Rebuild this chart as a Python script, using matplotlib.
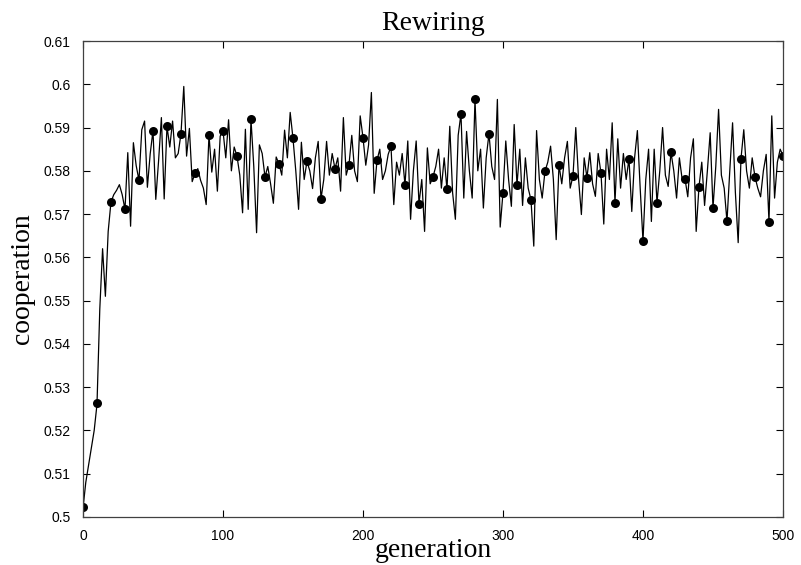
import matplotlib
matplotlib.use("Agg")
import matplotlib.pyplot as plt

# generation (every 2nd) and cooperation level
gen = list(range(0, 501, 2))
coop = [
    0.502, 0.508, 0.512, 0.516, 0.520, 0.526,
    0.548, 0.562, 0.551, 0.566, 0.5728,
    0.5745, 0.5755, 0.5768, 0.5745, 0.5711,
    0.5842, 0.5672, 0.5865, 0.5812, 0.5778,
    0.5895, 0.5915, 0.5762, 0.5839, 0.5893,
    0.5734, 0.5823, 0.5923, 0.5735, 0.5903,
    0.5855, 0.5915, 0.5830, 0.5840, 0.5886,
    0.5995, 0.5834, 0.5898, 0.5775, 0.5794,
    0.5805, 0.5778, 0.5760, 0.5722, 0.5883,
    0.5797, 0.5850, 0.5753, 0.5880, 0.5893,
    0.5830, 0.5918, 0.5800, 0.5855, 0.5834,
    0.5790, 0.5703, 0.5896, 0.5711, 0.5919,
    0.5810, 0.5657, 0.5860, 0.5840, 0.5786,
    0.5810, 0.5770, 0.5725, 0.5832, 0.5816,
    0.5790, 0.5894, 0.5830, 0.5935, 0.5875,
    0.5800, 0.5711, 0.5866, 0.5780, 0.5822,
    0.5800, 0.5759, 0.5830, 0.5868, 0.5735,
    0.5780, 0.5868, 0.5790, 0.5840, 0.5805,
    0.5830, 0.5753, 0.5923, 0.5790, 0.5814,
    0.5882, 0.5800, 0.5775, 0.5927, 0.5877,
    0.5813, 0.5860, 0.5981, 0.5748, 0.5824,
    0.5850, 0.5780, 0.5800, 0.5838, 0.5857,
    0.5722, 0.5820, 0.5790, 0.5840, 0.5767,
    0.5869, 0.5688, 0.5800, 0.5869, 0.5724,
    0.5780, 0.5660, 0.5853, 0.5770, 0.5786,
    0.5810, 0.5850, 0.5760, 0.5830, 0.5757,
    0.5903, 0.5750, 0.5688, 0.5882, 0.5932,
    0.5737, 0.5891, 0.5800, 0.5737, 0.5965,
    0.5800, 0.5850, 0.5714, 0.5830, 0.5886,
    0.5810, 0.5780, 0.5965, 0.5670, 0.5749,
    0.5869, 0.5780, 0.5718, 0.5907, 0.5767,
    0.5850, 0.5720, 0.5830, 0.5760, 0.5733,
    0.5626, 0.5893, 0.5780, 0.5737, 0.5799,
    0.5820, 0.5857, 0.5780, 0.5641, 0.5814,
    0.5770, 0.5830, 0.5868, 0.5760, 0.5788,
    0.5900, 0.5780, 0.5699, 0.5830, 0.5784,
    0.5842, 0.5770, 0.5741, 0.5840, 0.5795,
    0.5677, 0.5850, 0.5780, 0.5911, 0.5726,
    0.5874, 0.5760, 0.5840, 0.5780, 0.5828,
    0.5706, 0.5830, 0.5893, 0.5760, 0.5638,
    0.5780, 0.5850, 0.5683, 0.5850, 0.5726,
    0.5800, 0.5900, 0.5790, 0.5764, 0.5843,
    0.5800, 0.5737, 0.5830, 0.5780, 0.5782,
    0.5740, 0.5830, 0.5874, 0.5660, 0.5763,
    0.5820, 0.5720, 0.5800, 0.5888, 0.5714,
    0.5810, 0.5942, 0.5790, 0.5760, 0.5683,
    0.5800, 0.5911, 0.5750, 0.5634, 0.5828,
    0.5895, 0.5800, 0.5760, 0.5830, 0.5786,
    0.5760, 0.5740, 0.5800, 0.5838, 0.5682,
    0.5927, 0.5737, 0.5820, 0.5850, 0.5835,
]
# marked points every 10 generations
gen_marks = list(range(0, 501, 10))
coop_marks = [
    0.5022, 0.5263, 0.5728, 0.5711, 0.5778, 0.5893, 0.5903, 0.5886, 0.5794,
    0.5883, 0.5893, 0.5834, 0.5919, 0.5786, 0.5816, 0.5875, 0.5822, 0.5735,
    0.5805, 0.5814, 0.5877, 0.5824, 0.5857, 0.5767, 0.5724, 0.5786, 0.5757,
    0.5932, 0.5965, 0.5886, 0.5749, 0.5767, 0.5733, 0.5799, 0.5814, 0.5788,
    0.5784, 0.5795, 0.5726, 0.5828, 0.5638, 0.5726, 0.5843, 0.5782, 0.5763,
    0.5714, 0.5683, 0.5828, 0.5786, 0.5682, 0.5835,
]
yticks = [0.5, 0.51, 0.52, 0.53, 0.54, 0.55, 0.56, 0.57, 0.58, 0.59, 0.6, 0.61]
ytick_labels = ["0.5", "0.51", "0.52", "0.53", "0.54", "0.55", "0.56",
                "0.57", "0.58", "0.59", "0.6", "0.61"]
xticks = [0, 100, 200, 300, 400, 500]

fig = plt.figure(figsize=(8.01, 5.65), dpi=100)
ax = fig.add_axes([0.1036, 0.085, 0.8739, 0.8424])
ax.plot(gen, coop, "-", color="black", lw=0.9)
ax.plot(gen_marks, coop_marks, "o", color="black", ms=6.5, mew=0)

ax.set_xlim(0, 500)
ax.set_ylim(0.5, 0.61)
ax.set_xticks(xticks)
ax.set_yticks(yticks)
ax.set_yticklabels(ytick_labels)
ax.tick_params(direction="in", length=5, width=0.8, top=True, right=True,
               labelsize=10, colors="black")
ax.tick_params(axis="y", pad=9)
ax.tick_params(axis="x", pad=9)
for lab in ax.get_xticklabels() + ax.get_yticklabels():
    lab.set_family("Liberation Sans")
for sp in ax.spines.values():
    sp.set_linewidth(0.9)
    sp.set_color("0.25")

serif = "Liberation Serif"
ax.set_title("Rewiring", family=serif, fontsize=20, pad=8)
ax.set_xlabel("generation", family=serif, fontsize=20, labelpad=-4)
ax.set_ylabel("cooperation", family=serif, fontsize=20, labelpad=6)

fig.savefig("out.png", dpi=100)
